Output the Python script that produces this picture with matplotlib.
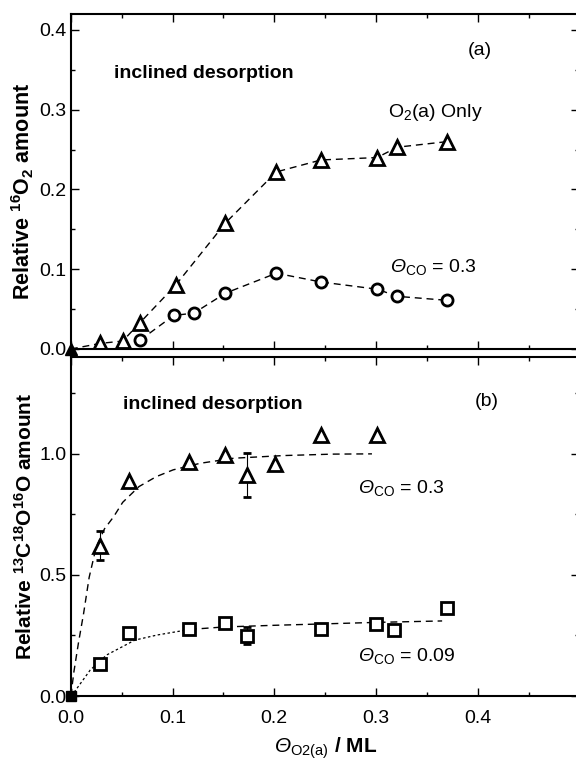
import numpy as np
import matplotlib
matplotlib.use("Agg")
import matplotlib.pyplot as plt
from matplotlib.ticker import MultipleLocator

plt.rcParams['font.family'] = ['Liberation Sans', 'DejaVu Sans']
plt.rcParams['mathtext.fontset'] = 'custom'
plt.rcParams['mathtext.rm'] = 'Liberation Sans'
plt.rcParams['mathtext.it'] = 'Liberation Sans:italic'
plt.rcParams['mathtext.bf'] = 'Liberation Sans:bold'
plt.rcParams['mathtext.sf'] = 'Liberation Sans:italic'  # used for the italic Theta

# (a) 16O2 amount vs O2(a) coverage
a_tri_x = [0.0, 0.029, 0.051, 0.068, 0.103, 0.152, 0.202, 0.246, 0.301, 0.321, 0.370]
a_tri_y = [0.0, 0.007, 0.010, 0.033, 0.080, 0.158, 0.222, 0.237, 0.240, 0.253, 0.260]
a_circ_x = [0.068, 0.101, 0.121, 0.152, 0.202, 0.246, 0.301, 0.321, 0.370]
a_circ_y = [0.011, 0.042, 0.045, 0.070, 0.095, 0.084, 0.075, 0.066, 0.061]

# (b) 13C18O16O amount, theta_CO = 0.3 (triangles) and 0.09 (squares)
b_tri_x = [0.029, 0.057, 0.116, 0.152, 0.173, 0.201, 0.246, 0.301]
b_tri_y = [0.620, 0.886, 0.966, 0.996, 0.912, 0.957, 1.076, 1.079]
b_tri_err = [0.060, 0.0, 0.0, 0.0, 0.090, 0.0, 0.0, 0.0]
b_sq_x = [0.0285, 0.057, 0.116, 0.152, 0.173, 0.246, 0.300, 0.318, 0.370]
b_sq_y = [0.131, 0.259, 0.277, 0.300, 0.248, 0.277, 0.296, 0.273, 0.362]
b_sq_err = [0.0, 0.0, 0.012, 0.012, 0.035, 0.0, 0.012, 0.0, 0.0]

# fit curves
fit_tri_x = [0.0, 0.003, 0.0075, 0.0125, 0.018, 0.025, 0.033, 0.042, 0.051, 0.067,
             0.084, 0.1006, 0.127, 0.160, 0.209, 0.258, 0.296]
fit_tri_y = [0.0, 0.10, 0.22, 0.34, 0.49, 0.617, 0.69, 0.74, 0.80, 0.865,
             0.906, 0.934, 0.961, 0.982, 0.993, 0.999, 1.0]
fit_sq_dot_x = [0.0, 0.004, 0.019, 0.035, 0.063, 0.085, 0.117]
fit_sq_dot_y = [0.0, 0.02, 0.107, 0.169, 0.231, 0.252, 0.275]
fit_sq_dash_x = [0.117, 0.15, 0.20, 0.25, 0.30, 0.365]
fit_sq_dash_y = [0.275, 0.285, 0.292, 0.298, 0.304, 0.310]

fig = plt.figure(figsize=(5.76, 7.64), dpi=100)
ax1 = fig.add_axes([0.123, 0.5432, 0.883, 0.4385])
ax2 = fig.add_axes([0.123, 0.0890, 0.883, 0.4437])

dash = (0, (5, 3.5))
mk = dict(mfc='white', mec='black', mew=2, ls='none')
theta = r'$\mathsf{Θ}$'

# panel (a)
ax1.plot(a_tri_x, a_tri_y, color='black', lw=1, ls=dash)
ax1.plot(a_circ_x, a_circ_y, color='black', lw=1, ls=dash)
ax1.plot(a_tri_x[1:], a_tri_y[1:], marker='^', ms=10.5, **mk)
ax1.plot(a_circ_x, a_circ_y, marker='o', ms=8, **mk)
ax1.plot([0.0], [0.0], marker='^', ms=9, color='black', ls='none', clip_on=False)

ax1.set_xlim(0, 0.5)
ax1.set_ylim(0, 0.42)
ax1.xaxis.set_major_locator(MultipleLocator(0.1))
ax1.xaxis.set_minor_locator(MultipleLocator(0.05))
ax1.yaxis.set_major_locator(MultipleLocator(0.1))
ax1.yaxis.set_minor_locator(MultipleLocator(0.05))
ax1.set_xticklabels([])
ax1.set_ylabel(r'Relative $^{\mathbf{16}}$O$_{\mathbf{2}}$ amount', fontsize=15.5,
               fontweight='bold')
ax1.yaxis.set_label_coords(-0.068, 0.47)
ax1.text(0.042, 0.345, 'inclined desorption', fontsize=14, fontweight='bold', va='center')
ax1.text(0.402, 0.374, '(a)', fontsize=14, ha='center', va='center')
ax1.text(0.312, 0.296, r'O$_2$(a) Only', fontsize=14, ha='left', va='center')
ax1.text(0.314, 0.103, theta + r'$_{\mathrm{CO}}$ = 0.3', fontsize=14, ha='left', va='center')

# panel (b)
ax2.plot(fit_tri_x, fit_tri_y, color='black', lw=1, ls=dash)
ax2.plot(fit_sq_dot_x, fit_sq_dot_y, color='black', lw=0.9, ls=(0, (2, 2)))
ax2.plot(fit_sq_dash_x, fit_sq_dash_y, color='black', lw=1, ls=dash)
ax2.errorbar(b_tri_x, b_tri_y, yerr=b_tri_err, fmt='^', ms=10.5, mfc='white', mec='black',
             mew=2, ecolor='black', elinewidth=0.8, capsize=3)
ax2.errorbar(b_sq_x, b_sq_y, yerr=b_sq_err, fmt='s', ms=8, mfc='white', mec='black',
             mew=2, ecolor='black', elinewidth=0.8, capsize=3)
ax2.plot([0.0], [0.0], marker='s', ms=7, color='black', ls='none', clip_on=False)

ax2.set_xlim(0, 0.5)
ax2.set_ylim(0, 1.4)
ax2.xaxis.set_minor_locator(MultipleLocator(0.05))
ax2.yaxis.set_major_locator(MultipleLocator(0.5))
ax2.yaxis.set_minor_locator(MultipleLocator(0.25))
ax2.set_xticks([0.0, 0.1, 0.2, 0.3, 0.4])
ax2.set_xticklabels(['0.0', '0.1', '0.2', '0.3', '0.4'])
ax2.set_ylabel(r'Relative $^{\mathbf{13}}$C$^{\mathbf{18}}$O$^{\mathbf{16}}$O amount',
               fontsize=15, fontweight='bold')
ax2.yaxis.set_label_coords(-0.068, 0.5)
ax2.set_xlabel(theta + r'$_{\mathrm{O2(a)}}$ / ML', fontsize=15, fontweight='bold', labelpad=6)
ax2.text(0.051, 1.202, 'inclined desorption', fontsize=14, fontweight='bold', va='center')
ax2.text(0.409, 1.215, '(b)', fontsize=14, ha='center', va='center')
ax2.text(0.282, 0.86, theta + r'$_{\mathrm{CO}}$ = 0.3', fontsize=14, ha='left', va='center')
ax2.text(0.282, 0.165, theta + r'$_{\mathrm{CO}}$ = 0.09', fontsize=14, ha='left', va='center')

for ax in (ax1, ax2):
    ax.tick_params(which='both', direction='in', top=True, right=True, labelsize=14)
    ax.tick_params(which='major', length=6, width=1)
    ax.tick_params(which='minor', length=3, width=1)
    ax.tick_params(axis='y', pad=3)
    ax.tick_params(axis='x', pad=10)
    for s in ax.spines.values():
        s.set_linewidth(1.5)

fig.savefig('out.png', dpi=100)
